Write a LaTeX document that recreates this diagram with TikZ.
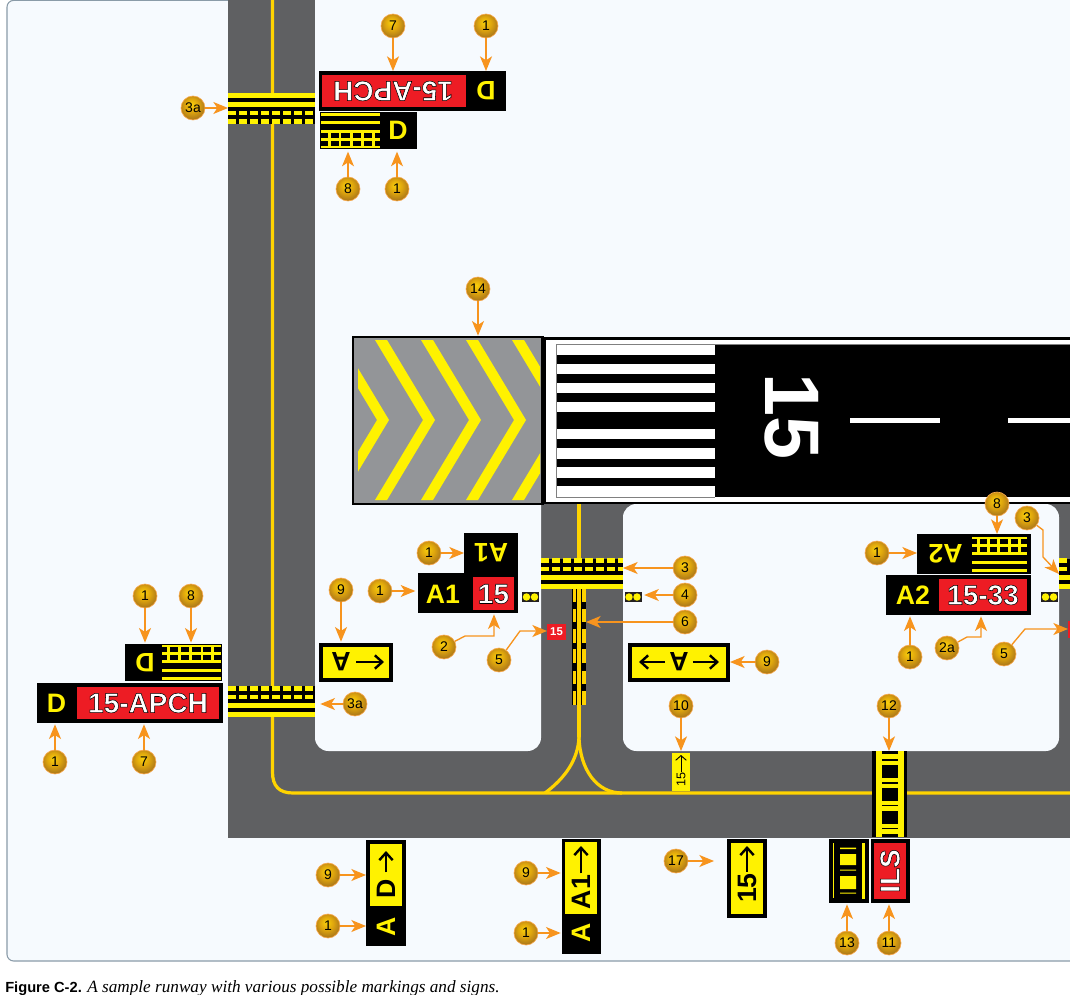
\documentclass[tikz,border=0pt]{standalone}
\usepackage{fontspec}
\setmainfont{Liberation Sans}
\newfontfamily\captionserif{Liberation Serif}
\usepackage{xcolor}
\definecolor{rwypanel}{RGB}{246,250,254}
\definecolor{rwyedge}{RGB}{138,155,168}
\definecolor{rwygrey}{RGB}{95,96,98}
\definecolor{rwypad}{RGB}{147,149,152}
\definecolor{rwyline}{RGB}{255,212,0}
\definecolor{rwyyellow}{RGB}{255,242,0}
\definecolor{rwyred}{RGB}{237,28,36}
\definecolor{rwyorange}{RGB}{247,148,30}
\definecolor{rwydark}{RGB}{35,31,32}
\definecolor{ballhi}{RGB}{250,208,10}
\definecolor{ballmid}{RGB}{222,165,14}
\definecolor{balllow}{RGB}{150,100,30}
\usetikzlibrary{arrows.meta,positioning,calc}
\pgfdeclareradialshading{goldball}{\pgfpoint{-4bp}{8bp}}{color(0bp)=(ballhi); color(14bp)=(ballmid); color(33bp)=(balllow); color(50bp)=(balllow)}
\newcommand{\outlined}[1]{\special{pdf:code q 2 Tr 0.4 w 0 G 1 g}#1\special{pdf:code Q}}
\newcommand{\holdstripes}[4]{%
  \draw[rwyyellow, line width=3.6pt] (#1,{#3+#4*2.5}) -- (#2,{#3+#4*2.5});
  \draw[rwyyellow, line width=3.6pt] (#1,{#3+#4*11.5}) -- (#2,{#3+#4*11.5});
  \draw[rwyyellow, line width=3.3pt, dash pattern=on 5.7pt off 2.6pt] (#1,{#3+#4*20}) -- (#2,{#3+#4*20});
  \draw[rwyyellow, line width=3.3pt, dash pattern=on 5.7pt off 2.6pt] (#1,{#3+#4*28.5}) -- (#2,{#3+#4*28.5});
}
\tikzset{
  pxbox/.style 2 args={inner sep=0pt, outer sep=0pt, minimum width=#1*0.75pt, minimum height=#2*0.75pt},
  signblack/.style 2 args={pxbox={#1}{#2}, fill=black},
  signred/.style 2 args={pxbox={#1}{#2}, fill=rwyred},
  signyellow/.style 2 args={pxbox={#1}{#2}, fill=rwyyellow},
  holdbox/.style={pxbox={87}{31}, fill=black},
  loc/.style={inner sep=0pt, font=\bfseries\fontsize{20}{20}\selectfont, text=rwyyellow},
  dirtext/.style={inner sep=0pt, font=\bfseries\fontsize{20}{20}\selectfont, text=black},
  redtext/.style={inner sep=0pt, font=\bfseries\fontsize{21}{21}\selectfont, text=white},
  callout/.style={circle, draw=rwyorange!80, line width=0.5pt, minimum size=18pt, inner sep=0pt, shade, shading=goldball, font=\fontsize{10.5}{10.5}\selectfont, text=black},
  callarrow/.style={draw=rwyorange, line width=1pt, -{Stealth[length=11pt, width=9pt, inset=3pt]}},
  signarrow/.style={line width=1.8pt, -{Straight Barb[length=5.5pt, width=10pt]}},
  taxiline/.style={draw=rwyline, line width=2.4pt},
  pics/minihold/.style={code={
    \draw[rwyyellow, line width=2pt] (-29.5,-16) -- (29.5,-16);
    \draw[rwyyellow, line width=2.2pt] (-29.5,-8) -- (29.5,-8);
    \foreach \yrow in {1,9,16.5} \draw[rwyyellow, line width=2.2pt] (-29.5,\yrow) -- (29.5,\yrow);
    \foreach \xcol in {-21,-10.5,1,12,23} \draw[rwyyellow, line width=2.2pt] (\xcol,0) -- (\xcol,17.5);
  }},
  pics/holddots/.style={code={
    \node[pxbox={17}{10}, fill=rwydark] (-box) at (0,0) {};
    \fill[rwyyellow] (-4,0) circle[radius=2.8pt] (4,0) circle[radius=2.8pt];
  }}
}
\begin{document}
\begin{tikzpicture}[x=0.75pt, y=-0.75pt]
  \useasboundingbox (0,0) rectangle (1070,995);
  \clip (0,0) rectangle (1070,995);
  \fill[white] (0,0) rectangle (1070,995);
  \draw[rwyedge, fill=rwypanel, line width=0.8pt, rounded corners=5pt] (7,0.4) rectangle (1090,961);

  \fill[rwygrey] (228,0) rectangle (1070,838);
  \fill[rwypanel] (315,0) rectangle (1070,338);
  \fill[rwypanel, rounded corners=10pt] (315,320) -- (315,751) -- (541,751) -- (541,320) -- cycle;
  \fill[rwypanel, rounded corners=10pt] (623,504) rectangle (1059,751);

  \draw[taxiline] (272.5,0) -- (272.5,772) .. controls (272.5,786) and (279,793) .. (293,793) -- (1070,793);
  \draw[taxiline] (579,500) -- (579,737);
  \draw[taxiline] (579,737) .. controls (578,760) and (565,778) .. (545,793);
  \draw[taxiline] (579,737) .. controls (580,770) and (597,793) .. (622,793);

  \node[pxbox={190}{167}, fill=rwypad, draw=black, line width=1pt] (blastpad) at (448,420.5) {};
  \begin{scope}
    \clip (358,340) rectangle (540,500);
    \foreach \tip in {389,435,481,526,572}
      \fill[rwyyellow] (\tip-60,340) -- (\tip-48,340) -- (\tip,420) -- (\tip-48,500) -- (\tip-60,500) -- (\tip-12,420) -- cycle;
  \end{scope}

  \fill[black] (541,337) rectangle (1070,504);
  \fill[white] (546,340) rectangle (1070,501.5);
  \fill[black] (557,344.5) rectangle (1070,497);
  \draw[gray, line width=0.6pt] (1070,344.3) -- (556.7,344.3) -- (556.7,497.2) -- (715,497.2);
  \foreach \ya/\yb in {345/355,364/374,383/393,402/412,429/439,448/459,467/478,486/497}
    \fill[white] (557,\ya) rectangle (715,\yb);
  \node[inner sep=0pt, rotate=-90, text=white, font=\bfseries\fontsize{58}{58}\selectfont] (rwynum) at (792,417) {15};
  \fill[white] (850,418) rectangle (940,423);
  \fill[white] (1008,418) rectangle (1070,423);

  \node[holdbox] (hold3aN) at (271.5,108.5) {};
  \holdstripes{228}{315}{93}{1}
  \node[holdbox] (hold3aS) at (271.5,701.5) {};
  \holdstripes{228}{315}{717}{-1}
  \node[pxbox={82}{30}, fill=black] (hold3) at (582,574) {};
  \holdstripes{541}{623}{589}{-1}
  \node[pxbox={12}{30}, fill=black] (hold3R) at (1065,574) {};
  \holdstripes{1059}{1070}{589}{-1}

  \node[pxbox={14}{116}, fill=black] (ilsmark) at (579,647) {};
  \fill[rwyline] (577,589) rectangle (581,705);
  \foreach \ya/\yb in {589/602,609/622,629/643,649/663,671/684,691/705}{
    \fill[rwyline] (573,\ya) rectangle (576,\yb);
    \fill[rwyline] (582,\ya) rectangle (586,\yb);
  }

  \node[pxbox={35}{86}, fill=black] (critmark) at (889.5,794) {};
  \fill[rwyyellow] (876,751) rectangle (904,837);
  \foreach \ya/\yb in {751/754,759/761,765/778,782/784,788/801,805/806,811/824,828/829,834/837}
    \fill[black] (882,\ya) rectangle (898,\yb);

  \node[signblack={187}{40}] (signD7N) at (412.5,91) {};
  \node[signred={144}{32}] (redD7N) at (394,91) {};
  \node[redtext, rotate=180] (txtD7N) at (393,91) {\outlined{15-APCH}};
  \node[loc, rotate=180] (locD7N) at (486,91) {D};
  \node[signblack={97}{37}] (signD8N) at (368.5,130.5) {};
  \pic at (350.5,130.5) {minihold};
  \node[loc] (locD8N) at (398,130.5) {D};

  \node[signblack={186}{40}] (signD7S) at (130,703) {};
  \node[signred={142}{32}] (redD7S) at (148,703) {};
  \node[redtext] (txtD7S) at (148,703) {\outlined{15-APCH}};
  \node[loc] (locD7S) at (56.5,703) {D};
  \node[signblack={97}{37}] (signD8S) at (173.5,662.5) {};
  \pic[rotate=180] at (191.5,662.5) {minihold};
  \node[loc, rotate=180] (locD8S) at (145,663) {D};

  \node[signblack={54}{40}] (signA1N) at (491,553) {};
  \node[loc, rotate=180] (locA1N) at (491,553) {A1};
  \node[signblack={100}{40}] (signA1S) at (468,593) {};
  \node[signred={41}{33}] (redA1S) at (493.5,593.5) {};
  \node[loc] (locA1S) at (443,594) {A1};
  \node[redtext] (txtA1S) at (493.5,594) {\outlined{15}};

  \node[signblack={114}{40}] (signA2N) at (974,554) {};
  \pic[rotate=180, xscale=0.93] at (999.5,554.5) {minihold};
  \node[loc, rotate=180] (locA2N) at (945.5,554) {A2};
  \node[signblack={145}{40}] (signA2S) at (958.5,595) {};
  \node[signred={88}{32}] (redA2S) at (983,595) {};
  \node[loc] (locA2S) at (913,595) {A2};
  \node[redtext] (txtA2S) at (983,595) {\outlined{15-33}};

  \pic (dotsA) at (530.5,597) {holddots};
  \pic (dotsB) at (633,597) {holddots};
  \pic (dotsC) at (1049.5,597) {holddots};

  \node[signred={19}{16}, font=\bfseries\fontsize{8.5}{8.5}\selectfont, text=white] (runway5) at (556.5,631.5) {15};
  \node[signred={10}{17}] (runway5R) at (1073,629) {};

  \node[signblack={74}{39}] (dirW) at (356,662.5) {};
  \node[signyellow={66}{31}] (dirWin) at (356,662.5) {};
  \node[dirtext, rotate=180] (lblW) at (341,662) {A};
  \coordinate (tipW) at (384,662);
  \draw[signarrow, shorten <=4pt] (lblW.west) -- (tipW);
  \node[signblack={102}{39}] (dirE) at (679,662.5) {};
  \node[signyellow={94}{31}] (dirEin) at (679,662.5) {};
  \node[dirtext, rotate=180] (lblE) at (679,662) {A};
  \coordinate (tipEa) at (639,662);
  \coordinate (tipEb) at (719,662);
  \draw[signarrow, shorten <=3pt] (lblE.east) -- (tipEa);
  \draw[signarrow, shorten <=3pt] (lblE.west) -- (tipEb);

  \node[signyellow={18}{38}] (paint10) at (681,772) {};
  \node[inner sep=0pt, rotate=90, font=\fontsize{9.5}{9.5}\selectfont] (lbl10) at (681,779) {15};
  \coordinate (tip10) at (681,755);
  \draw[line width=0.7pt, -{Straight Barb[length=3.5pt, width=8pt]}] (lbl10.east) -- (tip10);

  \node[signblack={40}{106}] (taxiAD) at (386,893) {};
  \node[signyellow={32}{62}] (taxiADin) at (386,875) {};
  \node[dirtext, rotate=90] (lblAD) at (386,889) {D};
  \node[loc, rotate=90] (locAD) at (386,927) {A};
  \coordinate (tipAD) at (386,851);
  \draw[signarrow, shorten <=5pt] (lblAD.east) -- (tipAD);

  \node[signblack={39}{115}] (taxiAA) at (581.5,896.5) {};
  \node[signyellow={32}{72}] (taxiAAin) at (581,878) {};
  \node[dirtext, rotate=90] (lblAA) at (581,892) {A1};
  \node[loc, rotate=90] (locAA) at (581,933) {A};
  \coordinate (tipAA) at (581,846);
  \draw[signarrow, shorten <=1pt] (lblAA.east) -- (tipAA);

  \node[signblack={40}{79}] (dir15) at (747,878.5) {};
  \node[signyellow={32}{71}] (dir15in) at (747,878.5) {};
  \node[dirtext, rotate=90] (lbl15) at (747,888) {15};
  \coordinate (tip15) at (747,846);
  \draw[signarrow, shorten <=1pt] (lbl15.east) -- (tip15);

  \node[signblack={40}{64}] (ilsback) at (849,871) {};
  \fill[rwyyellow] (833,843) rectangle (834.3,898);
  \fill[rwyyellow] (862,843) rectangle (865,899);
  \fill[rwyyellow] (840,854) rectangle (856,865) (840,876) rectangle (856,889);
  \fill[rwyyellow] (840,847.7) rectangle (856,849) (840,869.5) rectangle (856,870.7) (840,892.5) rectangle (856,893.7);
  \node[signblack={39}{64}] (ilssign) at (890.5,871) {};
  \node[signred={32}{56}] (ilsred) at (890,871) {};
  \node[redtext, rotate=90] (txtILS) at (890,871) {\outlined{ILS}};

  \node[anchor=base west, inner sep=0pt, font=\fontsize{11}{12}\selectfont] (caption) at (5,992) {\textbf{Figure C-2.} {\captionserif\itshape\fontsize{12.9}{12}\selectfont A sample runway with various possible markings and signs.}};

  \node[callout] (n3aN) at (193,108) {3a};
  \node[callout] (n7N) at (393,26) {7};
  \node[callout] (n1N) at (486,26) {1};
  \node[callout] (n8N) at (348,189) {8};
  \node[callout] (n1Nb) at (397,189) {1};
  \node[callout] (n14) at (478,289) {14};
  \node[callout] (n1a) at (429,553) {1};
  \node[callout] (n1b) at (380,591) {1};
  \node[callout] (n2) at (444,647) {2};
  \node[callout] (n5) at (499,660) {5};
  \node[callout] (n3) at (685,568) {3};
  \node[callout] (n4) at (685,595) {4};
  \node[callout] (n6) at (685,622) {6};
  \node[callout] (n9E) at (767,662) {9};
  \node[callout] (n1c) at (877,553) {1};
  \node[callout] (n8E) at (997,504) {8};
  \node[callout] (n3E) at (1027,518) {3};
  \node[callout] (n1d) at (910,657) {1};
  \node[callout] (n2a) at (947,648) {2a};
  \node[callout] (n5E) at (1004,654) {5};
  \node[callout] (n1e) at (145,596) {1};
  \node[callout] (n8S) at (191,596) {8};
  \node[callout] (n9W) at (341,590) {9};
  \node[callout] (n1f) at (55,762) {1};
  \node[callout] (n7S) at (144,762) {7};
  \node[callout] (n3aS) at (355,704) {3a};
  \node[callout] (n10) at (681,706) {10};
  \node[callout] (n12) at (889,706) {12};
  \node[callout] (n9A) at (328,875) {9};
  \node[callout] (n1g) at (328,926) {1};
  \node[callout] (n9B) at (526,873) {9};
  \node[callout] (n1h) at (526,933) {1};
  \node[callout] (n17) at (676,861) {17};
  \node[callout] (n13) at (847,943) {13};
  \node[callout] (n11) at (889,943) {11};

  \coordinate (free17) at (714,861);
  \coordinate (bend2a) at (465,636);
  \coordinate (bend2b) at (494,636);
  \coordinate (bend5) at (520,631);
  \coordinate (bend3a) at (1043,530);
  \coordinate (bend3b) at (1043,557);
  \coordinate (bend2c) at (967,637);
  \coordinate (bend2d) at (981,637);
  \coordinate (bend5E) at (1025,629);

  \draw[callarrow] (n3aN) -- (hold3aN.west |- n3aN);
  \draw[callarrow] (n7N) -- (n7N |- signD7N.north);
  \draw[callarrow] (n1N) -- (n1N |- signD7N.north);
  \draw[callarrow, shorten >=2pt] (n8N) -- (n8N |- signD8N.south);
  \draw[callarrow, shorten >=2pt] (n1Nb) -- (n1Nb |- signD8N.south);
  \draw[callarrow, shorten >=1pt] (n14) -- (n14 |- blastpad.north);
  \draw[callarrow] (n1a) -- (signA1N.west |- n1a);
  \draw[callarrow, shorten >=2pt] (n1b) -- (signA1S.west |- n1b);
  \draw[callarrow, shorten >=1pt] (n2) -- (bend2a) -- (bend2b) -- (bend2b |- signA1S.south);
  \draw[callarrow] (n5) -- (bend5) -- (runway5.west |- bend5);
  \draw[callarrow] (n3) -- (hold3.east |- n3);
  \draw[callarrow, shorten >=2pt] (n4) -- (dotsB-box.east |- n4);
  \draw[callarrow] (n6) -- (ilsmark.east |- n6);
  \draw[callarrow] (n9E) -- (dirE.east |- n9E);
  \draw[callarrow] (n1c) -- (signA2N.west |- n1c);
  \draw[callarrow] (n8E) -- (n8E |- signA2N.north);
  \draw[callarrow] (n3E) -- (bend3a) -- (bend3b) -- (hold3R.west);
  \draw[callarrow, shorten >=1pt] (n1d) -- (n1d |- signA2S.south);
  \draw[callarrow, shorten >=1pt] (n2a) -- (bend2c) -- (bend2d) -- (bend2d |- signA2S.south);
  \draw[callarrow] (n5E) -- (bend5E) -- (runway5R.west |- bend5E);
  \draw[callarrow, shorten >=1pt] (n1e) -- (n1e |- signD8S.north);
  \draw[callarrow, shorten >=1pt] (n8S) -- (n8S |- signD8S.north);
  \draw[callarrow, shorten >=1pt] (n9W) -- (n9W |- dirW.north);
  \draw[callarrow, shorten >=1pt] (n1f) -- (n1f |- signD7S.south);
  \draw[callarrow, shorten >=1pt] (n7S) -- (n7S |- signD7S.south);
  \draw[callarrow, shorten >=4pt] (n3aS) -- (hold3aS.east |- n3aS);
  \draw[callarrow] (n10) -- (n10 |- critmark.north);
  \draw[callarrow] (n12) -- (n12 |- critmark.north);
  \draw[callarrow] (n9A) -- (taxiAD.west |- n9A);
  \draw[callarrow] (n1g) -- (taxiAD.west |- n1g);
  \draw[callarrow, shorten >=1pt] (n9B) -- (taxiAA.west |- n9B);
  \draw[callarrow, shorten >=1pt] (n1h) -- (taxiAA.west |- n1h);
  \draw[callarrow] (n17) -- (free17);
  \draw[callarrow, shorten >=1pt] (n13) -- (n13 |- ilsback.south);
  \draw[callarrow, shorten >=1pt] (n11) -- (n11 |- ilssign.south);
\end{tikzpicture}
\end{document}
